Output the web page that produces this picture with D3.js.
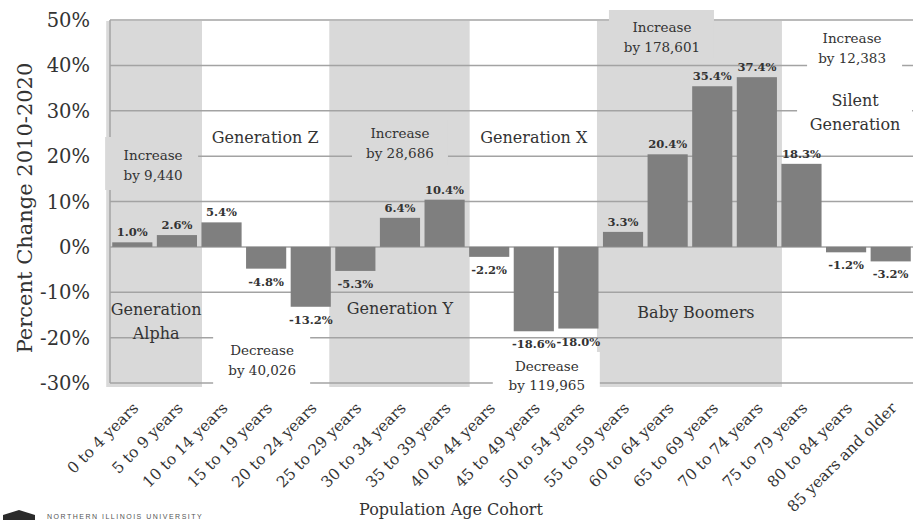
<!DOCTYPE html>
<html>
<head>
<meta charset="utf-8">
<script src="https://cdn.jsdelivr.net/npm/d3@7"></script>
<style>
  body { margin: 0; background: #fff; }
  svg { display: block; font-family: "DejaVu Serif", serif; }
</style>
</head>
<body>
<div class="cohorts"></div>
<script>
(function(){
// the data
var cohorts = ["0 to 4 years", "5 to 9 years", "10 to 14 years", "15 to 19 years",
  "20 to 24 years", "25 to 29 years", "30 to 34 years", "35 to 39 years",
  "40 to 44 years", "45 to 49 years", "50 to 54 years", "55 to 59 years",
  "60 to 64 years", "65 to 69 years", "70 to 74 years", "75 to 79 years",
  "80 to 84 years", "85 years and older"];
var pctChange = [1.0, 2.6, 5.4, -4.8, -13.2, -5.3, 6.4, 10.4, -2.2, -18.6,
  -18.0, 3.3, 20.4, 35.4, 37.4, 18.3, -1.2, -3.2];
var yTicks = [-30, -20, -10, 0, 10, 20, 30, 40, 50];

var generations = ["Generation Alpha", "Generation Z", "Generation Y",
  "Generation X", "Baby Boomers", "Silent Generation"];
var genFirst = [0, 2, 5, 8, 11, 15];
var genLast = [1, 4, 7, 10, 14, 17];
var genShaded = [true, false, true, false, true, false];
var genChange = ["Increase by 9,440", "Decrease by 40,026", "Increase by 28,686",
  "Decrease by 119,965", "Increase by 178,601", "Increase by 12,383"];

// where the annotation text sits, relative to the centre of each group
var layout = [
  {name: ["Generation", "Alpha"], nameDx: 1.5, nameY: [309, 333], nameBox: null,
   changeDx: -1.5, changeY: [155, 175], changeBox: [-49.5, 43.5, 137, 190]},
  {name: ["Generation Z"], nameDx: -1, nameY: [137], nameBox: null,
   changeDx: -4, changeY: [350, 370], changeBox: [-53, 44, 330, 392]},
  {name: ["Generation Y"], nameDx: 0, nameY: [308], nameBox: null,
   changeDx: 0, changeY: [133, 153], changeBox: [-48, 48, 120, 165]},
  {name: ["Generation X"], nameDx: 0, nameY: [137], nameBox: null,
   changeDx: 13, changeY: [366, 385], changeBox: [-41, 66, 352, 396]},
  {name: ["Baby Boomers"], nameDx: 6, nameY: [312], nameBox: null,
   changeDx: -28, changeY: [27, 47], changeBox: [-81, 24, 10, 58]},
  {name: ["Silent", "Generation"], nameDx: 9, nameY: [100, 124], nameBox: [-49, 66, 84, 138],
   changeDx: 6, changeY: [38, 58], changeBox: [-39, 56, 26, 71]}
];

var shadeCol = "#d9d9d9",
    barCol = "#7f7f7f",
    gridCol = "#a3a3a3",
    textCol = "#333";

var width = 921, height = 520;
var plot = {left: 110, right: 913, top: 20, bottom: 383};

var svg = d3.select(".cohorts").append("svg")
    .attr("width", width)
    .attr("height", height);

// scales
var x = d3.scaleBand()
    .domain(cohorts)
    .range([plot.left, plot.right])
    .paddingInner(0.1)
    .paddingOuter(0.05);
var y = d3.scaleLinear()
    .domain([-30, 50])
    .range([plot.bottom, plot.top]);

function groupLeft(i) { return x(cohorts[genFirst[i]]); }
function groupRight(i) { return x(cohorts[genLast[i]]) + x.bandwidth(); }
function groupMid(i) { return (groupLeft(i) + groupRight(i)) / 2; }

// shaded generation bands
svg.append("g").selectAll("rect")
    .data(generations.filter(function(d, i) { return genShaded[i]; }))
  .enter().append("rect")
    .attr("x", function(d) { return groupLeft(generations.indexOf(d)) - 6; })
    .attr("width", function(d) {
      var i = generations.indexOf(d);
      return groupRight(i) - groupLeft(i) + 11;
    })
    .attr("y", plot.top + 1)
    .attr("height", plot.bottom - plot.top + 3)
    .style("fill", shadeCol);

// gridlines
svg.append("g").selectAll("line")
    .data(yTicks)
  .enter().append("line")
    .attr("x1", plot.left)
    .attr("x2", plot.right)
    .attr("y1", function(d) { return y(d); })
    .attr("y2", function(d) { return y(d); })
    .style("stroke", gridCol)
    .style("stroke-width", 1.5);

// y axis line
svg.append("line")
    .attr("x1", plot.left).attr("x2", plot.left)
    .attr("y1", plot.top).attr("y2", plot.bottom)
    .style("stroke", gridCol)
    .style("stroke-width", 1.5);

// y tick labels
svg.append("g").selectAll("text")
    .data(yTicks)
  .enter().append("text")
    .attr("x", 90)
    .attr("y", function(d) { return y(d); })
    .attr("dy", "0.36em")
    .attr("text-anchor", "end")
    .style("font-size", "19.5px")
    .style("fill", textCol)
    .text(function(d) { return d + "%"; });

// bars
svg.append("g").selectAll("rect")
    .data(pctChange)
  .enter().append("rect")
    .attr("x", function(d, i) { return x(cohorts[i]); })
    .attr("width", x.bandwidth())
    .attr("y", function(d) { return y(Math.max(0, d)); })
    .attr("height", function(d) { return Math.abs(y(d) - y(0)); })
    .style("fill", barCol);

// bar value labels
svg.append("g").selectAll("text")
    .data(pctChange)
  .enter().append("text")
    .attr("x", function(d, i) { return x(cohorts[i]) + x.bandwidth() / 2; })
    .attr("y", function(d) { return d >= 0 ? y(d) - 6 : y(d) + 17; })
    .attr("text-anchor", "middle")
    .style("font-size", "11.5px")
    .style("font-weight", "bold")
    .style("fill", "#333")
    .text(function(d) { return d.toFixed(1) + "%"; });

// annotation boxes and text
var ann = svg.append("g");
generations.forEach(function(g, i) {
  var L = layout[i], cx = groupMid(i);
  var boxFill = genShaded[i] ? shadeCol : "#fff";
  [L.nameBox, L.changeBox].forEach(function(b) {
    if (!b) return;
    ann.append("rect")
        .attr("x", cx + b[0])
        .attr("width", b[1] - b[0])
        .attr("y", b[2])
        .attr("height", b[3] - b[2])
        .style("fill", boxFill);
  });
  L.name.forEach(function(t, j) {
    ann.append("text")
        .attr("x", cx + L.nameDx)
        .attr("y", L.nameY[j])
        .attr("dy", "0.35em")
        .attr("text-anchor", "middle")
        .style("font-size", "16px")
        .style("fill", textCol)
        .text(t);
  });
  // "Increase by 9,440" -> two lines
  var words = genChange[i].split(" ");
  [words[0], words.slice(1).join(" ")].forEach(function(t, j) {
    ann.append("text")
        .attr("x", cx + L.changeDx)
        .attr("y", L.changeY[j])
        .attr("dy", "0.35em")
        .attr("text-anchor", "middle")
        .style("font-size", "13.5px")
        .style("fill", textCol)
        .text(t);
  });
});

// x tick labels, rotated
svg.append("g").selectAll("text")
    .data(cohorts)
  .enter().append("text")
    .attr("transform", function(d) {
      return "translate(" + (x(d) + x.bandwidth() / 2 + 7) + ",409) rotate(-45)";
    })
    .attr("text-anchor", "end")
    .style("font-size", "15.5px")
    .style("fill", textCol)
    .text(function(d) { return d; });

// axis titles
svg.append("text")
    .attr("transform", "translate(32,208) rotate(-90)")
    .attr("text-anchor", "middle")
    .style("font-size", "21px")
    .style("fill", textCol)
    .text("Percent Change 2010-2020");

svg.append("text")
    .attr("x", 451)
    .attr("y", 515)
    .attr("text-anchor", "middle")
    .style("font-size", "16px")
    .style("fill", textCol)
    .text("Population Age Cohort");

// university mark at the bottom edge
svg.append("path")
    .attr("d", "M3,520 L3,515 L19,510 L35,515 L35,520 Z")
    .style("fill", "#2b2b2b");
svg.append("text")
    .attr("x", 47)
    .attr("y", 519)
    .style("font-family", "Liberation Sans, sans-serif")
    .style("font-size", "7px")
    .style("letter-spacing", "1.5px")
    .style("fill", "#555")
    .text("NORTHERN ILLINOIS UNIVERSITY");
})();
</script>
</body>
</html>
